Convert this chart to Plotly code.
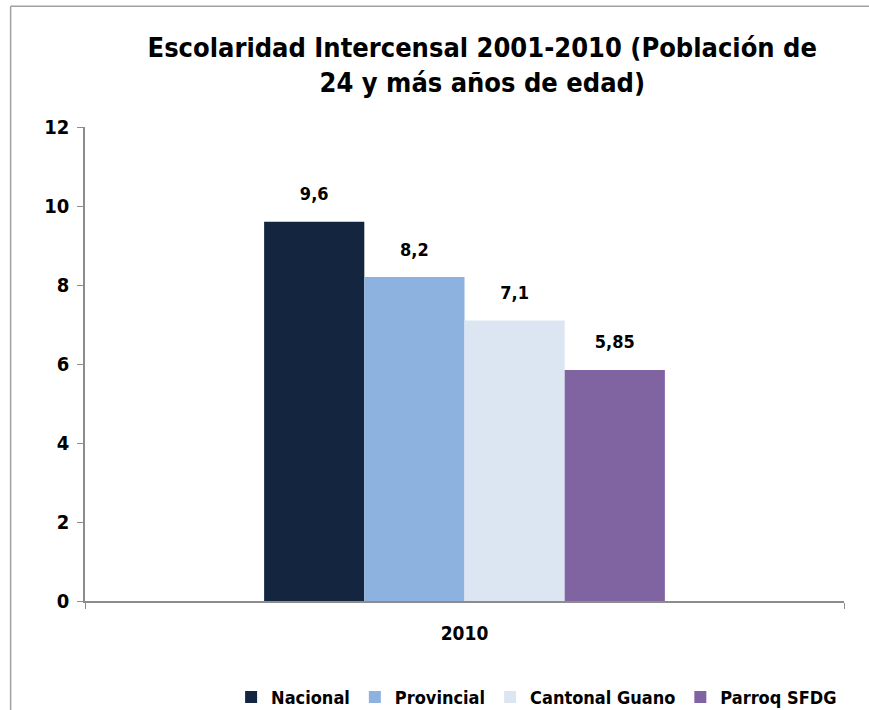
import plotly.graph_objects as go

# Average years of schooling, population aged 24 and over
categories = ["2010"]
series_names = ["Nacional", "Provincial", "Cantonal Guano", "Parroq SFDG"]
series_values = [9.6, 8.2, 7.1, 5.85]
series_colors = ["#13253f", "#8eb2e0", "#dce6f2", "#8064a2"]
y_ticks = [0, 2, 4, 6, 8, 10, 12]

FONT = "DejaVu Sans Condensed, Liberation Sans, Arial, sans-serif"


def label(v):
    # comma as decimal separator; the trailing small line lifts the label off the bar
    s = f"{v:g}".replace(".", ",")
    return f"<span style='font-size:18px'><b>{s}</b></span><br> "


fig = go.Figure()
for name, val, col in zip(series_names, series_values, series_colors):
    fig.add_trace(go.Bar(
        name=f"<b>{name}</b>",
        x=categories,
        y=[val],
        marker=dict(color=col, line=dict(width=0)),
        text=[label(val)],
        textposition="outside",
        cliponaxis=False,
        textfont=dict(family=FONT, size=12, color="#000000"),
    ))

fig.update_layout(
    width=869,
    height=710,
    barmode="group",
    bargap=0.472,
    bargroupgap=0,
    plot_bgcolor="white",
    paper_bgcolor="white",
    margin=dict(l=85, r=25, t=127, b=109),
    title=dict(
        text="<b>Escolaridad Intercensal 2001-2010 (Población de<br>24 y más años de edad)</b>",
        x=0.555, xanchor="center",
        yref="container",
        y=0.92, yanchor="middle",
        font=dict(family=FONT, size=27, color="#000000"),
    ),
    font=dict(family=FONT, color="#000000"),
    legend=dict(
        orientation="h",
        x=0.595, xanchor="center",
        yref="container",
        y=0.018, yanchor="middle",
        font=dict(family=FONT, size=18, color="#000000"),
        itemwidth=30,
        tracegroupgap=0,
    ),
    showlegend=True,
)

fig.update_xaxes(
    tickvals=categories,
    ticktext=["<b>2010</b>"],
    showline=True, linecolor="#8c8c8c", linewidth=1.5,
    ticks="outside", ticklen=6, tickcolor="#8c8c8c",
    tickson="boundaries",
    ticklabelstandoff=14,
    tickfont=dict(family=FONT, size=19, color="#000000"),
    showgrid=False,
)
fig.update_yaxes(
    range=[0, 12],
    tickvals=y_ticks,
    ticktext=[f"<b>{t}</b>" for t in y_ticks],
    showline=True, linecolor="#8c8c8c", linewidth=1.5,
    ticks="outside", ticklen=6, tickcolor="#8c8c8c",
    ticklabelstandoff=4,
    tickfont=dict(family=FONT, size=20, color="#000000"),
    showgrid=False, zeroline=False,
)

# Outer frame of the chart area
fig.add_shape(type="line", xref="paper", yref="paper",
              x0=-0.098, x1=1.04, y0=1.255, y1=1.255,
              line=dict(color="#a0a0a0", width=1.5))
fig.add_shape(type="line", xref="paper", yref="paper",
              x0=-0.098, x1=-0.098, y0=1.255, y1=-0.3,
              line=dict(color="#a0a0a0", width=1.5))

fig.write_html("out.html")
